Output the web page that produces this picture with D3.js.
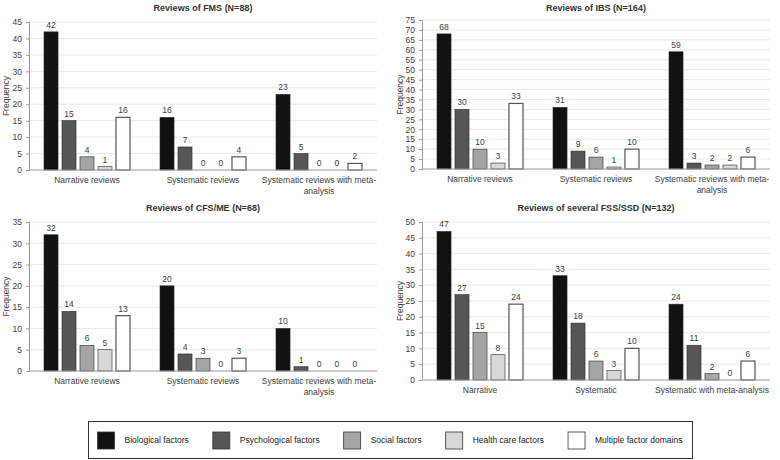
<!DOCTYPE html>
<html><head><meta charset="utf-8">
<script src="https://cdn.jsdelivr.net/npm/d3@7"></script>
<style>
body{margin:0;background:#fff;}
svg{font-family:"Liberation Sans",Arial,sans-serif;display:block;}
</style></head>
<body><svg id="c" width="780" height="460"></svg>
<script>
const factors = ["Biological factors","Psychological factors","Social factors","Health care factors","Multiple factor domains"];
const factorColors = ["#111111","#565656","#a5a5a5","#d8d8d8","#ffffff"];
const catsLong = ["Narrative reviews","Systematic reviews","Systematic reviews with meta-analysis"];
const catsShort = ["Narrative","Systematic","Systematic with meta-analysis"];

const fmsValues = [[42,15,4,1,16],[16,7,0,0,4],[23,5,0,0,2]];
const ibsValues = [[68,30,10,3,33],[31,9,6,1,10],[59,3,2,2,6]];
const cfsValues = [[32,14,6,5,13],[20,4,3,0,3],[10,1,0,0,0]];
const fssValues = [[47,27,15,8,24],[33,18,6,3,10],[24,11,2,0,6]];

const titles = ["Reviews of FMS (N=88)","Reviews of IBS (N=164)","Reviews of CFS/ME (N=68)","Reviews of several FSS/SSD (N=132)"];
const yMaxes = [45,75,35,50];

const svg = d3.select("#c");

const panels = [
  {title:titles[0], data:fmsValues, cats:catsLong, ymax:yMaxes[0], x0:29, x1:377, yTop:22, y0:170, fx:6, ty:11, wrap:true},
  {title:titles[1], data:ibsValues, cats:catsLong, ymax:yMaxes[1], x0:422, x1:770, yTop:20, y0:169, fx:400, ty:11, wrap:true},
  {title:titles[2], data:cfsValues, cats:catsLong, ymax:yMaxes[2], x0:29, x1:377, yTop:222, y0:371, fx:6, ty:211, wrap:true},
  {title:titles[3], data:fssValues, cats:catsShort, ymax:yMaxes[3], x0:422, x1:770, yTop:222, y0:380, fx:400, ty:211, wrap:false}
];

function wrapLines(s){
  if(s==="Systematic reviews with meta-analysis") return ["Systematic reviews with meta-","analysis"];
  return [s];
}

panels.forEach(p=>{
  const g = svg.append("g");
  const x = d3.scaleBand().domain(p.cats).range([p.x0,p.x1]).padding(0);
  const xi = d3.scaleBand().domain(d3.range(5)).range([15, x.bandwidth()-15]).paddingInner(0.22).paddingOuter(0);
  const y = d3.scaleLinear().domain([0,p.ymax]).range([p.y0,p.yTop]);
  const ticks = d3.range(0,p.ymax+1,5);

  // gridlines
  g.append("g").selectAll("line").data(ticks.filter(t=>t>0)).join("line")
    .attr("x1",p.x0).attr("x2",p.x1).attr("y1",d=>y(d)).attr("y2",d=>y(d))
    .attr("stroke","#e3e3e3").attr("stroke-width",0.8);

  // y axis
  const ya = g.append("g").attr("transform",`translate(${p.x0},0)`)
    .call(d3.axisLeft(y).tickValues(ticks).tickSize(3).tickPadding(4));
  ya.select(".domain").attr("stroke","#9a9a9a");
  ya.selectAll(".tick line").attr("stroke","#9a9a9a");
  ya.selectAll("text").attr("font-size",8.5).attr("fill","#404040").attr("font-family","Liberation Sans, Arial, sans-serif");

  // bars
  p.data.forEach((vals,ci)=>{
    const cat = p.cats[ci];
    const bg = g.append("g").attr("transform",`translate(${x(cat)},0)`);
    bg.selectAll("rect").data(vals).join("rect")
      .attr("x",(d,i)=>xi(i)).attr("width",xi.bandwidth())
      .attr("y",d=>y(d)).attr("height",d=>p.y0-y(d))
      .attr("fill",(d,i)=>factorColors[i])
      .attr("stroke",(d,i)=>i===4?"#555":"#2a2a2a").attr("stroke-width",(d,i)=>i===4?1.2:0.6);
    bg.selectAll("text").data(vals).join("text")
      .attr("x",(d,i)=>xi(i)+xi.bandwidth()/2).attr("y",d=>y(d)-4)
      .attr("text-anchor","middle").attr("font-size",8.5).attr("fill","#404040")
      .text(d=>d);
  });

  // x axis line
  g.append("line").attr("x1",p.x0).attr("x2",p.x1).attr("y1",p.y0).attr("y2",p.y0)
    .attr("stroke","#9a9a9a").attr("stroke-width",1);

  // x labels
  p.cats.forEach(c=>{
    const lines = p.wrap? wrapLines(c):[c];
    const t = g.append("text").attr("text-anchor","middle").attr("font-size",8.5).attr("fill","#404040");
    lines.forEach((l,li)=>{
      t.append("tspan").attr("x",x(c)+x.bandwidth()/2).attr("y",p.y0+13+li*11).text(l);
    });
  });

  // y label
  g.append("text").attr("transform",`translate(${p.fx},${(p.yTop+p.y0)/2}) rotate(-90)`)
    .attr("text-anchor","middle").attr("dy","0.35em").attr("font-size",8.5).attr("fill","#404040").text("Frequency");

  // title
  g.append("text").attr("x",(p.x0+p.x1)/2).attr("y",p.ty).attr("text-anchor","middle")
    .attr("font-size",9).attr("font-weight","bold").attr("fill","#333").text(p.title);
});

// legend
const lg = svg.append("g");
lg.append("rect").attr("x",88.5).attr("y",421.5).attr("width",604).attr("height",37)
  .attr("fill","#fff").attr("stroke","#333").attr("stroke-width",1);
const tmp = lg.append("text").attr("font-size",8.5);
const widths = factors.map(f=>{tmp.text(f); return tmp.node().getComputedTextLength();});
tmp.remove();
const sw=17, gap1=10, gap2=24;
const total = d3.sum(widths)+factors.length*(sw+gap1)+(factors.length-1)*gap2;
let cx = 390-total/2;
factors.forEach((f,i)=>{
  lg.append("rect").attr("x",cx).attr("y",432).attr("width",sw).attr("height",17)
    .attr("fill",factorColors[i]).attr("stroke","#333").attr("stroke-width",0.8);
  lg.append("text").attr("x",cx+sw+gap1).attr("y",443).attr("font-size",8.5).attr("fill","#222").text(f);
  cx += sw+gap1+widths[i]+gap2;
});
</script>
</body></html>
